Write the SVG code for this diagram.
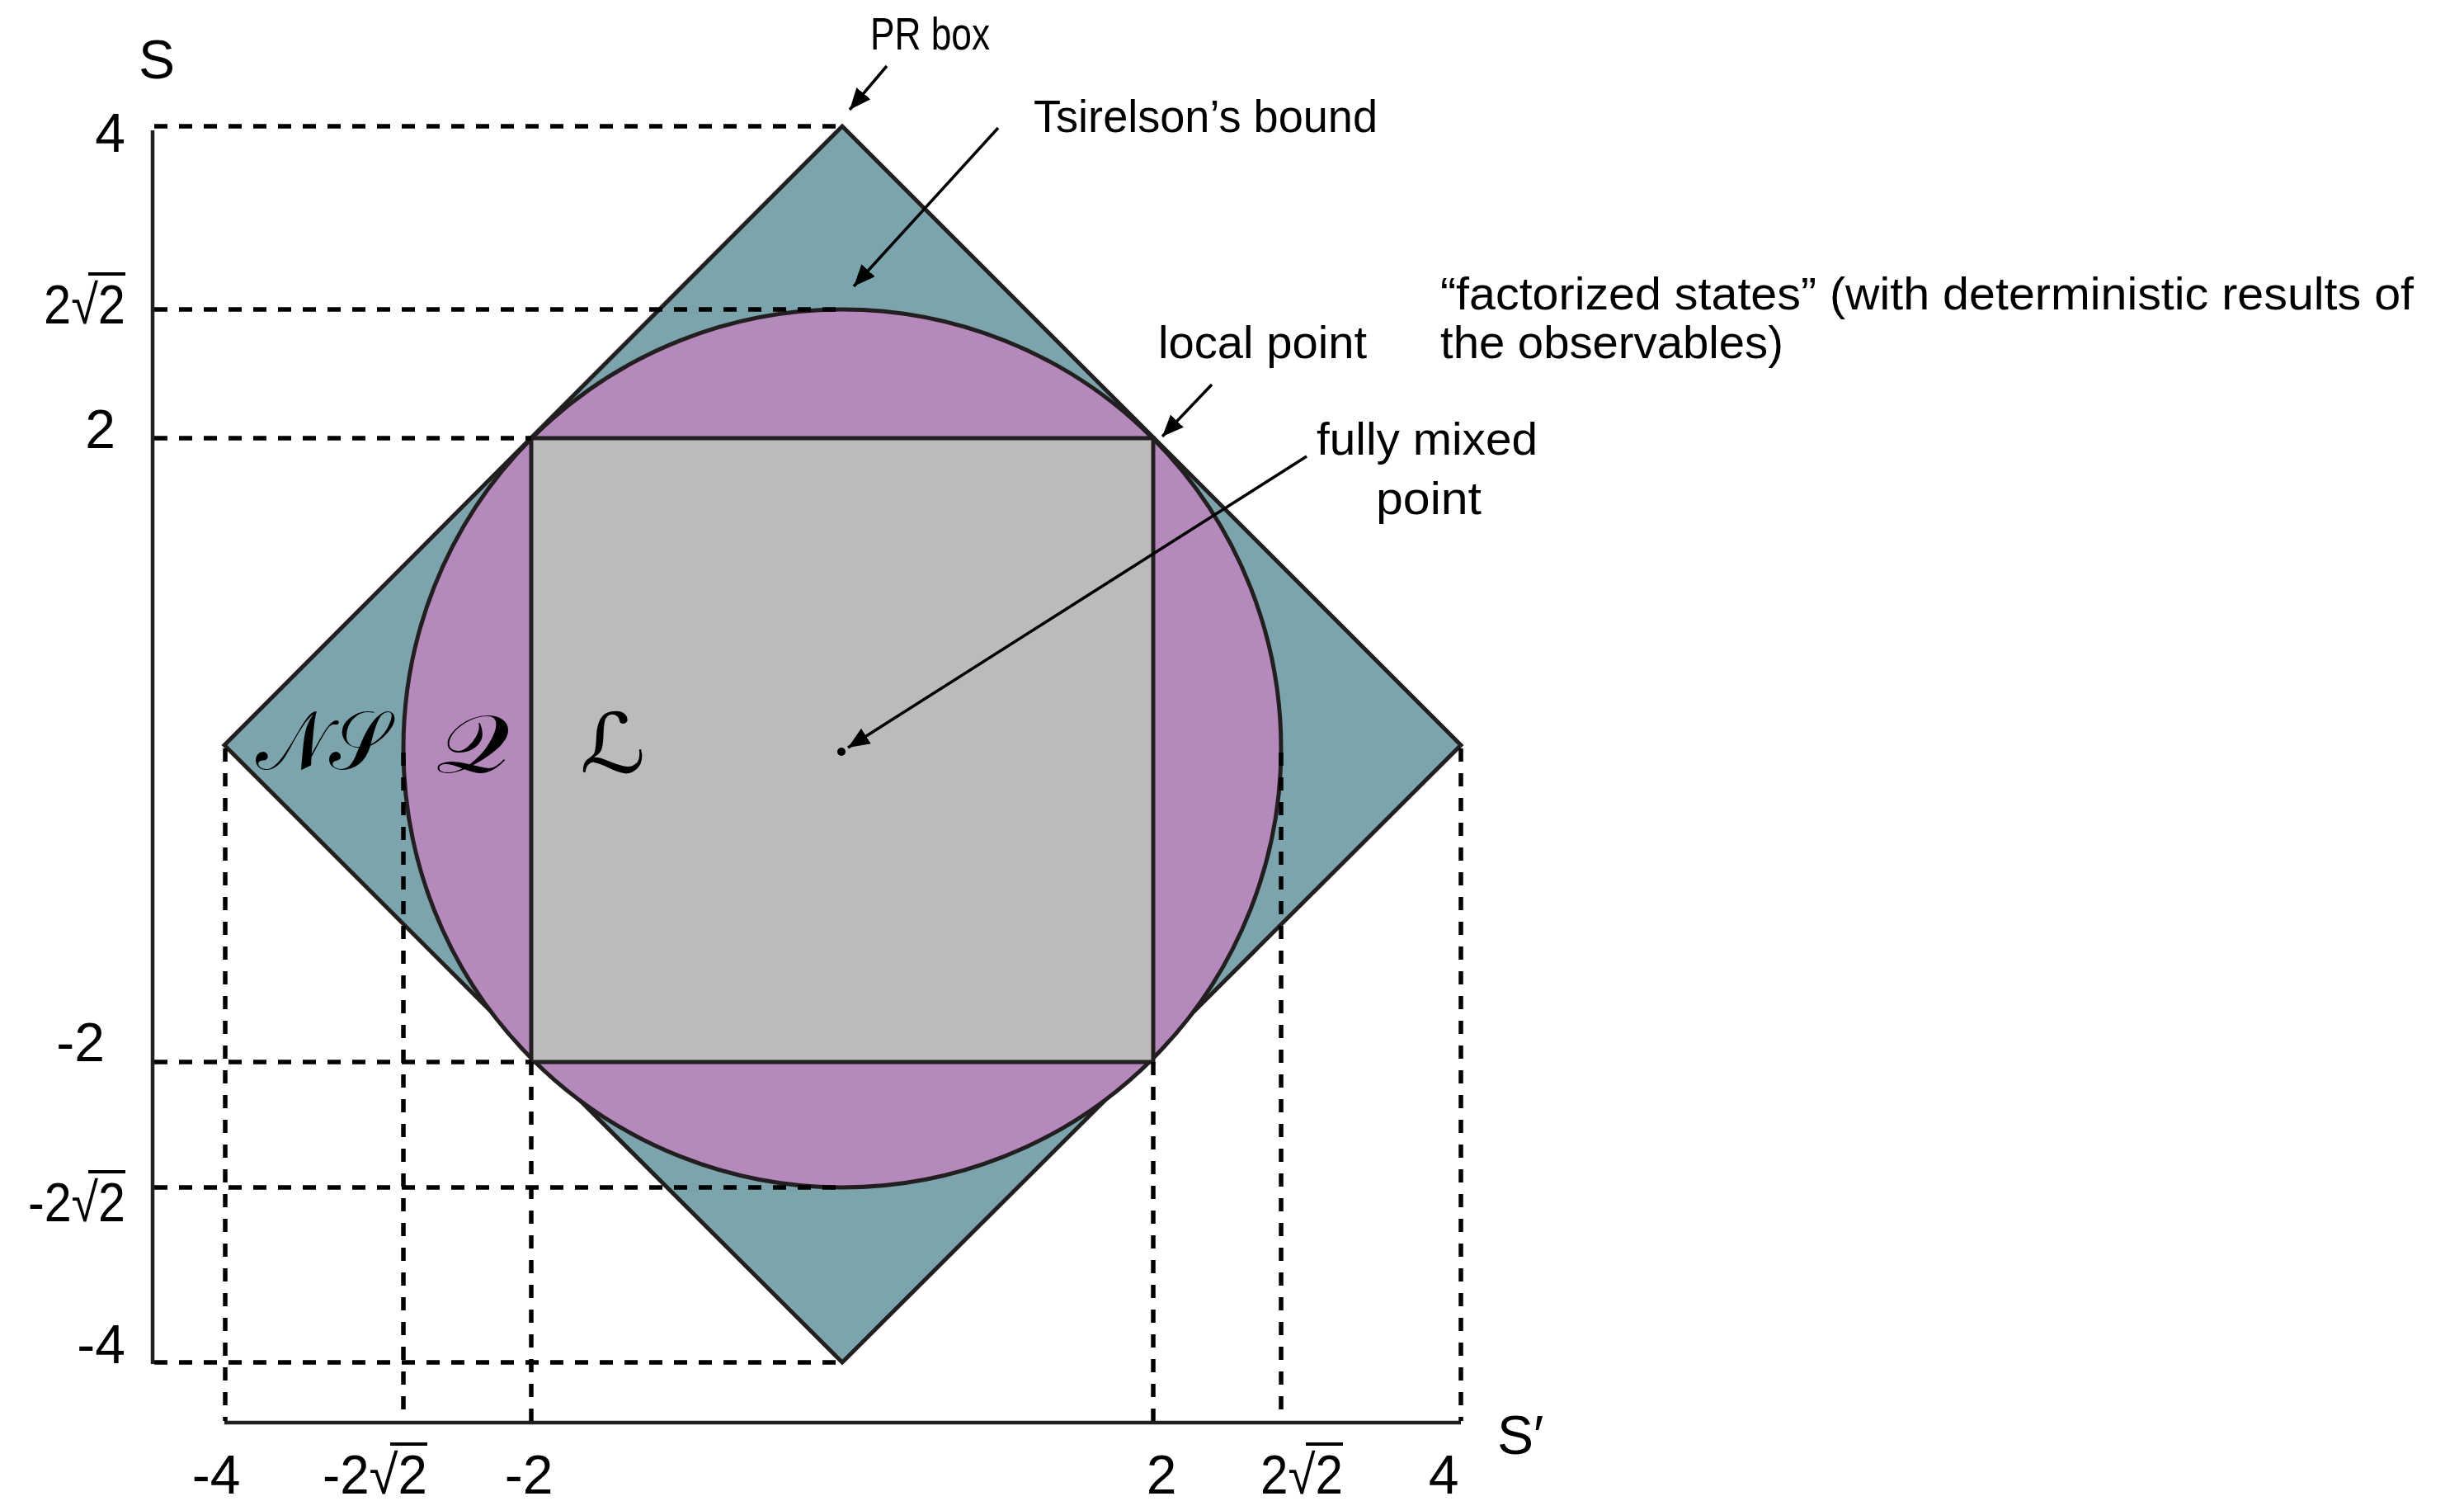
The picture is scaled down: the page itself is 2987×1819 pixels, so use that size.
<svg xmlns="http://www.w3.org/2000/svg" width="2987" height="1819" viewBox="0 0 2987 1819">
<style>
.shape{stroke:#231f20;stroke-width:5;stroke-linejoin:miter}
.dash{stroke:#000;stroke-width:5.5;stroke-dasharray:16 14;fill:none}
.axis{stroke:#231f20;stroke-width:4.5;fill:none}
.arrow{stroke:#000;stroke-width:3.5;fill:none;marker-end:url(#arr)}
.lbl{font-family:"Liberation Sans",Arial,sans-serif;font-size:56px;fill:#000}
.ax{font-family:"Liberation Sans",Arial,sans-serif;font-size:66px;fill:#000}
.vin{stroke:#000;stroke-width:4}
.set{font-family:"DejaVu Serif","DejaVu Sans","Noto Sans",serif;font-size:100px;fill:#000}
</style>
<defs>
<marker id="arr" markerUnits="userSpaceOnUse" markerWidth="30" markerHeight="24" refX="26" refY="11" orient="auto">
<path d="M0,0 L26,11 L0,22 z" fill="#000"/>
</marker>
</defs>
<rect width="2987" height="1819" fill="#fff"/>
<g id="regions">
<polygon id="ns" class="shape" fill="#7ba4ad" points="1021,153 1771,903 1021,1651 272,903"/>
<circle id="q" class="shape" fill="#b589bc" cx="1021" cy="907" r="532"/>
<rect id="l" class="shape" fill="#bbbbbb" x="644" y="531" width="754" height="756"/>
<circle id="mixed" cx="1020" cy="911" r="5" fill="#000"/>
</g>
<g id="guides">
<line class="dash" x1="187" y1="153" x2="1021" y2="153"/>
<line class="dash" x1="187" y1="375" x2="1021" y2="375"/>
<line class="dash" x1="187" y1="531" x2="644" y2="531"/>
<line class="dash" x1="187" y1="1287" x2="644" y2="1287"/>
<line class="dash" x1="187" y1="1439" x2="1021" y2="1439"/>
<line class="dash" x1="187" y1="1651" x2="1021" y2="1651"/>
<line class="dash" x1="273" y1="907" x2="273" y2="1722"/>
<line class="dash" x1="489" y1="912" x2="489" y2="1722"/>
<line class="dash" x1="644" y1="1287" x2="644" y2="1722"/>
<line class="dash" x1="1398" y1="1287" x2="1398" y2="1722"/>
<line class="dash" x1="1553" y1="912" x2="1553" y2="1722"/>
<line class="dash" x1="1771" y1="907" x2="1771" y2="1722"/>
</g>
<g id="axes">
<polyline class="axis" points="185,158 185,1653"/>
<polyline class="axis" points="272,1724 1771,1724"/>
</g>
<g id="connectors">
<line class="arrow" x1="1075" y1="80" x2="1030" y2="133"/>
<line class="arrow" x1="1210" y1="155" x2="1035" y2="347"/>
<line class="arrow" x1="1469" y1="466" x2="1409" y2="529"/>
<line class="arrow" x1="1584" y1="553" x2="1028" y2="906"/>
</g>
<g id="labels">
<text class="lbl" x="1055" y="60" textLength="145" lengthAdjust="spacingAndGlyphs">PR box</text>
<text class="lbl" x="1253" y="160" textLength="417" lengthAdjust="spacingAndGlyphs">Tsirelson’s bound</text>
<text class="lbl" x="1404" y="434" textLength="253" lengthAdjust="spacingAndGlyphs">local point</text>
<text class="lbl" x="1596" y="551" textLength="268" lengthAdjust="spacingAndGlyphs">fully mixed</text>
<text class="lbl" x="1668" y="623" textLength="128" lengthAdjust="spacingAndGlyphs">point</text>
<text class="lbl" x="1746" y="375" font-size="58" textLength="1180" lengthAdjust="spacingAndGlyphs">“factorized states” (with deterministic results of</text>
<text class="lbl" x="1746" y="434" font-size="58" textLength="416" lengthAdjust="spacingAndGlyphs">the observables)</text>
</g>
<g id="sets">
<text class="set" x="310" y="932" textLength="160" lengthAdjust="spacingAndGlyphs">𝒩𝒮</text>
<text class="set" x="528" y="936" font-size="135" textLength="90" lengthAdjust="spacingAndGlyphs">𝒬</text>
<text class="set" x="703" y="936" font-size="122" textLength="80" lengthAdjust="spacingAndGlyphs">ℒ</text>
</g>
<g id="ticks">
<text class="ax" x="168" y="95" font-size="72">S</text>
<text class="ax" x="1815" y="1762" font-size="72">S′</text>
<text class="ax" x="152" y="184" text-anchor="end">4</text>
<text class="ax" x="53" y="392" textLength="99" lengthAdjust="spacingAndGlyphs">2√2</text>
<line class="vin" x1="107" y1="332" x2="152" y2="332"/>
<text class="ax" x="140" y="543" text-anchor="end">2</text>
<text class="ax" x="127" y="1286" text-anchor="end">-2</text>
<text class="ax" x="34" y="1480" textLength="118" lengthAdjust="spacingAndGlyphs">-2√2</text>
<line class="vin" x1="107" y1="1420" x2="152" y2="1420"/>
<text class="ax" x="152" y="1652" text-anchor="end">-4</text>
<text class="ax" x="262" y="1810" text-anchor="middle">-4</text>
<text class="ax" x="391" y="1810" textLength="127" lengthAdjust="spacingAndGlyphs">-2√2</text>
<line class="vin" x1="473" y1="1750" x2="518" y2="1750"/>
<text class="ax" x="641" y="1810" text-anchor="middle">-2</text>
<text class="ax" x="1408" y="1810" text-anchor="middle">2</text>
<text class="ax" x="1528" y="1810" textLength="100" lengthAdjust="spacingAndGlyphs">2√2</text>
<line class="vin" x1="1583" y1="1750" x2="1628" y2="1750"/>
<text class="ax" x="1750" y="1810" text-anchor="middle">4</text>
</g>
</svg>
